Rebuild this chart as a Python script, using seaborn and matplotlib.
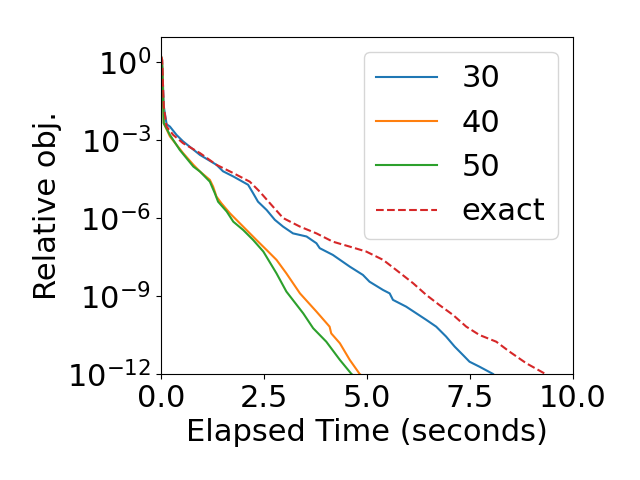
import matplotlib
matplotlib.use("Agg")
import matplotlib.pyplot as plt
import seaborn as sns
import numpy as np
import pandas as pd

# elapsed time (s) and log10 of relative objective
t_30 = [0.0, 0.02, 0.06, 0.13, 0.21, 0.37, 0.53, 0.94, 1.34, 1.5, 1.75, 2.11, 2.23, 2.35, 2.56,
        2.76, 2.96, 3.2, 3.53, 3.77, 3.85, 4.17, 4.58, 4.9, 5.06, 5.39, 5.55, 5.63, 5.95,
        6.2, 6.44, 6.68, 6.92, 7.13, 7.33, 7.49, 7.73, 8.06, 8.2]
lg_30 = [0.2, 0.09, -1.7, -2.39, -2.48, -2.8, -3.05, -3.57, -3.95, -4.2, -4.4, -4.72, -5.04, -5.37, -5.69,
         -6.07, -6.33, -6.59, -6.71, -6.97, -7.16, -7.42, -7.87, -8.19, -8.45, -8.77, -8.9, -9.15, -9.41,
         -9.67, -9.92, -10.18, -10.56, -10.95, -11.27, -11.53, -11.72, -12.0, -12.2]

t_40 = [0.0, 0.02, 0.06, 0.21, 0.37, 0.53, 0.78, 0.94, 1.18, 1.26, 1.34, 1.46, 1.67, 1.99, 2.31,
        2.56, 2.8, 3.04, 3.37, 3.77, 4.09, 4.13, 4.34, 4.58, 4.82, 4.9]
lg_40 = [0.2, 0.09, -2.35, -2.86, -3.18, -3.5, -3.95, -4.21, -4.53, -4.79, -5.17, -5.43, -5.82, -6.33, -6.84,
         -7.23, -7.61, -8.13, -8.9, -9.6, -10.18, -10.44, -10.82, -11.46, -12.0, -12.1]

t_50 = [0.0, 0.02, 0.06, 0.21, 0.45, 0.78, 0.94, 1.18, 1.3, 1.38, 1.59, 1.75, 1.99, 2.23, 2.48,
        2.8, 3.04, 3.45, 3.69, 4.01, 4.34, 4.62, 4.7]
lg_50 = [0.0, -0.17, -2.35, -2.8, -3.38, -4.02, -4.21, -4.6, -5.04, -5.37, -5.75, -6.14, -6.46, -6.84, -7.29,
         -8.13, -8.83, -9.67, -10.24, -10.76, -11.46, -12.0, -12.1]

t_exact = [0.0, 0.02, 0.06, 0.13, 0.29, 0.53, 0.94, 1.34, 1.75, 2.15, 2.39, 2.64, 2.96, 3.37, 3.77,
           4.17, 4.58, 4.98, 5.39, 5.71, 6.12, 6.44, 6.76, 7.09, 7.41, 7.73, 8.14, 8.46, 8.87,
           9.31, 9.4]
lg_exact = [0.2, 0.09, -1.7, -2.48, -2.8, -3.12, -3.5, -3.95, -4.27, -4.6, -4.98, -5.43, -6.0, -6.33, -6.59,
            -6.91, -7.1, -7.29, -7.61, -8.0, -8.51, -8.96, -9.35, -9.73, -10.18, -10.5, -10.76, -11.14, -11.59,
            -11.98, -12.1]

series = [("30", t_30, lg_30, "#1f77b4", "-"),
          ("40", t_40, lg_40, "#ff7f0e", "-"),
          ("50", t_50, lg_50, "#2ca02c", "-"),
          ("exact", t_exact, lg_exact, "#d62728", "--")]

plt.rcParams['font.size'] = 22
fig, ax = plt.subplots(figsize=(6.4, 4.8), dpi=100)

for name, t, lg, color, ls in series:
    df = pd.DataFrame({"t": t, "obj": 10.0 ** np.array(lg)})
    sns.lineplot(data=df, x="t", y="obj", ax=ax, color=color, linestyle=ls,
                 label=name, estimator=None, sort=False, linewidth=1.5)

ax.set_yscale("log")
ax.set_xlim(0, 10)
ax.set_ylim(1e-12, 10 ** 0.97)
ax.set_yticks([1e0, 1e-3, 1e-6, 1e-9, 1e-12])
ax.minorticks_off()
ax.set_xticks([0, 2.5, 5, 7.5, 10])
ax.set_xticklabels(["0.0", "2.5", "5.0", "7.5", "10.0"])
ax.set_xlabel("Elapsed Time (seconds)")
ax.set_ylabel("Relative obj.")
ax.legend(loc="upper right")

fig.subplots_adjust(left=0.252, right=0.895, bottom=0.221, top=0.923)
fig.savefig("out.png", dpi=100)
plt.close(fig)
